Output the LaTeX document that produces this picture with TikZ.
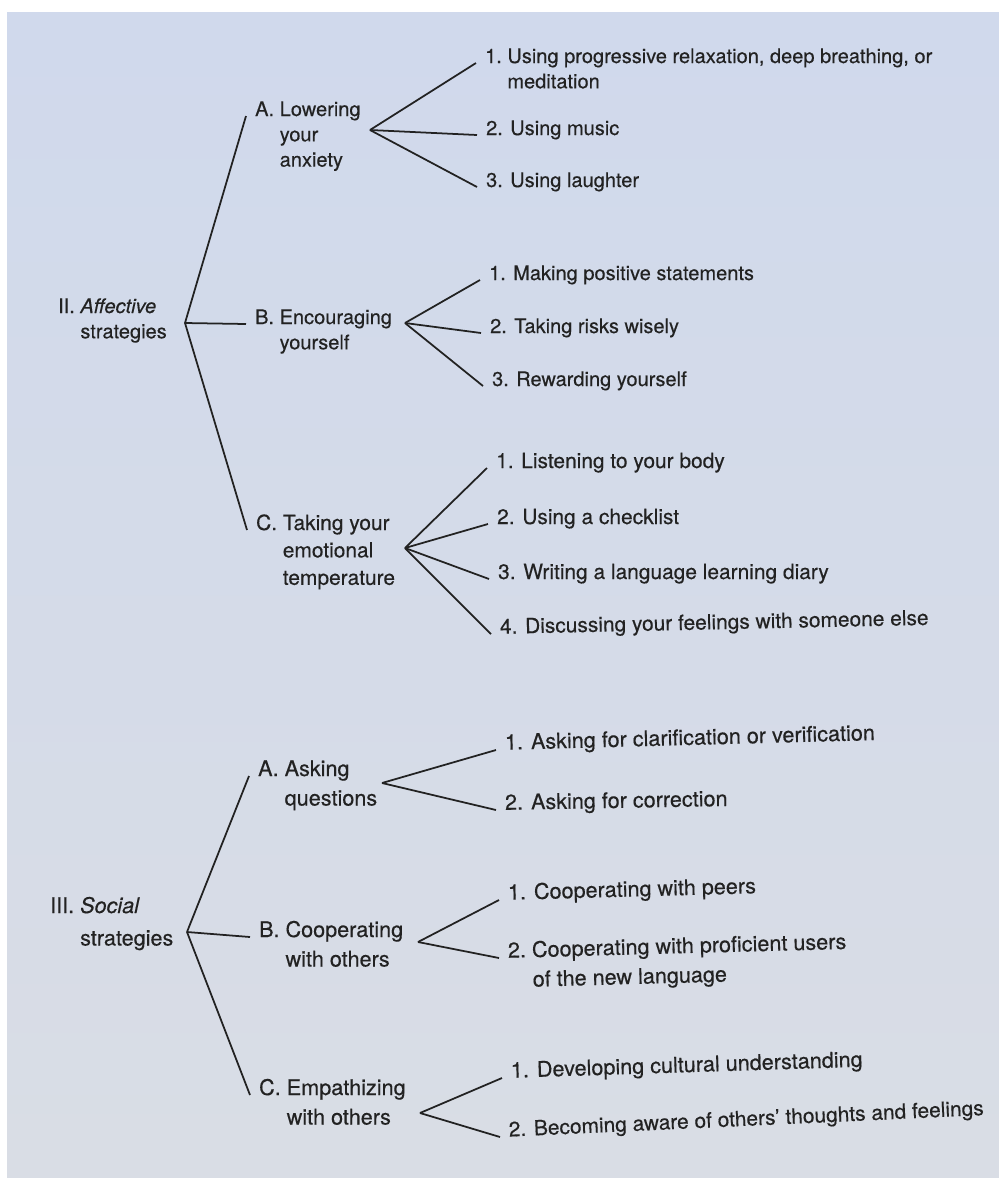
\documentclass[tikz,border=0pt]{standalone}
\usepackage{fontspec}
\setmainfont{TeX Gyre Heros}[FakeBold=0.35]
\usetikzlibrary{positioning}
\definecolor{page}{HTML}{D0D9EC}
\definecolor{pagelow}{HTML}{D9DDE5}
\definecolor{ink}{HTML}{222222}
\newcommand{\hang}[2]{#1\ \begin{tabular}[t]{@{}l@{}}#2\end{tabular}}
\tikzset{
  entry/.style   = {anchor=base west, inner xsep=5pt, inner ysep=1pt, text=ink},
  topfont/.style = {font=\fontsize{11.4}{14.4}\selectfont},
  midfont/.style = {font=\fontsize{11.9}{15.6}\selectfont},
  lowfont/.style = {font=\fontsize{12.3}{16.8}\selectfont},
  branch/.style  = {draw=ink, line width=1pt},
}

\begin{document}
\begin{tikzpicture}[x=0.02cm, y=-0.02cm]
  \fill[white] (0,0) rectangle (999,1178);
  \shade[top color=page, bottom color=pagelow] (7,12) rectangle (999,1178);
  \useasboundingbox (0,0) rectangle (999,1178);

  % affective strategies
  \node[entry, topfont] (rootII) at (49,313) {\hang{II.}{\textit{Affective}\\strategies}};
  \coordinate (jII) at (185,323);

  \node[entry, topfont] (afA) at (246,116) {\hang{A.}{Lowering\\your\\anxiety}};
  \node[entry, topfont] (afB) at (246,324) {\hang{B.}{Encouraging\\yourself}};
  \node[entry, midfont] (afC) at (247,530) {\hang{C.}{Taking your\\emotional\\temperature}};
  \coordinate (afAk) at (370,130);
  \coordinate (afBk) at (405,323);
  \coordinate (afCk) at (405,548);

  \node[entry, topfont] (afA1) at (476,63) {\hang{1.}{Using progressive relaxation, deep breathing, or\\meditation}};
  \node[entry, topfont] (afA2) at (477,135) {2. Using music};
  \node[entry, topfont] (afA3) at (477,187) {3. Using laughter};
  \node[entry, topfont] (afB1) at (480,280) {1. Making positive statements};
  \node[entry, topfont] (afB2) at (481,333) {2. Taking risks wisely};
  \node[entry, topfont] (afB3) at (483,386) {3. Rewarding yourself};
  \node[entry, midfont] (afC1) at (487,468) {1. Listening to your body};
  \node[entry, midfont] (afC2) at (488,524) {2. Using a checklist};
  \node[entry, midfont] (afC3) at (489,579) {3. Writing a language learning diary};
  \node[entry, midfont, rotate=1.2] (afC4) at (491,634) {4. Discussing your feelings with someone else};

  \draw[branch] (jII) -- (afA.base west);
  \draw[branch] (jII) -- (afB.base west);
  \draw[branch] (jII) -- (afC.base west);
  \foreach \k in {1,2,3} \draw[branch] (afAk) -- (afA\k.base west);
  \foreach \k in {1,2,3} \draw[branch] (afBk) -- (afB\k.base west);
  \foreach \k in {1,2,3,4} \draw[branch] (afCk) -- (afC\k.base west);

  % social strategies
  \node[entry, lowfont, font=\fontsize{12.3}{18.5}\selectfont] (rootIII) at (41,913) {\hang{III.}{\textit{Social}\\strategies}};
  \coordinate (jIII) at (187,932);

  \node[entry, lowfont] (soA) at (249,776) {\hang{A.}{Asking\\questions}};
  \node[entry, lowfont] (soB) at (250,937) {\hang{B.}{Cooperating\\with others}};
  \node[entry, lowfont] (soC) at (250,1095) {\hang{C.}{Empathizing\\with others}};
  \coordinate (soAk) at (382,783);
  \coordinate (soBk) at (418,942);
  \coordinate (soCk) at (420,1113);

  \node[entry, lowfont, rotate=1.5] (soA1) at (496,750) {1. Asking for clarification or verification};
  \node[entry, lowfont, rotate=1] (soA2) at (496,810) {2. Asking for correction};
  \node[entry, lowfont, rotate=1.5] (soB1) at (499,900) {1. Cooperating with peers};
  \node[entry, lowfont, rotate=1.5] (soB2) at (499,958) {\hang{2.}{Cooperating with proficient users\\of the new language}};
  \node[entry, lowfont, rotate=1.8] (soC1) at (502,1078) {1. Developing cultural understanding};
  \node[entry, lowfont, font=\fontsize{11.9}{16.8}\selectfont, rotate=2.6] (soC2) at (500,1137) {2. Becoming aware of others' thoughts and feelings};

  \draw[branch] (jIII) -- (soA.base west);
  \draw[branch] (jIII) -- (soB.base west);
  \draw[branch] (jIII) -- (soC.base west);
  \foreach \k in {1,2} \draw[branch] (soAk) -- (soA\k.base west);
  \foreach \k in {1,2} \draw[branch] (soBk) -- (soB\k.base west);
  \foreach \k in {1,2} \draw[branch] (soCk) -- (soC\k.base west);
\end{tikzpicture}
\end{document}
